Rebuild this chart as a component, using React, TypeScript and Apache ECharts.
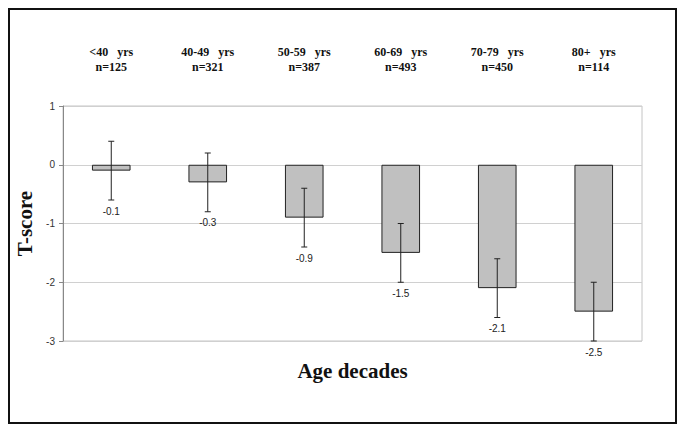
import React, { useEffect, useRef } from "react";
import * as echarts from "echarts";

const categories = ["<40   yrs\nn=125", "40-49   yrs\nn=321", "50-59   yrs\nn=387", "60-69   yrs\nn=493", "70-79   yrs\nn=450", "80+   yrs\nn=114"];
const tScores = [-0.1, -0.3, -0.9, -1.5, -2.1, -2.5];
const errLow = [-0.6, -0.8, -1.4, -2.0, -2.6, -3.0];
const errHigh = [0.4, 0.2, -0.4, -1.0, -1.6, -2.0];
const yTicks = { min: -3, max: 1, interval: 1 };

export default function App() {
  const ref = useRef<HTMLDivElement>(null);
  useEffect(() => {
    if (!ref.current) return;
    const chart = echarts.init(ref.current, undefined, { renderer: "svg" });
    const errData = categories.map((_, i) => [i, errLow[i], errHigh[i], tScores[i]]);
    chart.setOption({
      animation: false,
      backgroundColor: "#fff",
      grid: {
        left: 63,
        right: 43,
        top: 106,
        bottom: 91,
        show: true,
        borderColor: "#c4c4c4",
        borderWidth: 1,
      },
      graphic: [
        {
          type: "rect",
          shape: { x: 9, y: 9, width: 667, height: 414 },
          style: { fill: "none", stroke: "#111", lineWidth: 2 },
          z: 100,
        },
      ],
      xAxis: [
        {
          type: "category",
          data: categories,
          position: "top",
          axisLine: { show: false },
          axisTick: { show: false },
          axisLabel: {
            margin: 32,
            fontFamily: "'Liberation Serif', 'Times New Roman', serif",
            fontWeight: "bold",
            fontSize: 12,
            lineHeight: 15,
            color: "#111",
          },
        },
        {
          type: "category",
          data: categories,
          position: "bottom",
          axisLine: { show: false },
          axisTick: { show: false },
          axisLabel: { show: false },
          name: "Age decades",
          nameLocation: "middle",
          nameGap: 19,
          nameTextStyle: {
            fontFamily: "'Liberation Serif', 'Times New Roman', serif",
            fontWeight: "bold",
            fontSize: 21,
            color: "#111",
          },
        },
      ],
      yAxis: {
        type: "value",
        min: yTicks.min,
        max: yTicks.max,
        interval: yTicks.interval,
        name: "T-score",
        nameLocation: "middle",
        nameRotate: 90,
        nameGap: 26,
        nameTextStyle: {
          fontFamily: "'Liberation Serif', 'Times New Roman', serif",
          fontWeight: "bold",
          fontSize: 21,
          color: "#111",
        },
        axisLine: { show: true, lineStyle: { color: "#888", width: 1 } },
        axisTick: { show: true, length: 4, lineStyle: { color: "#888" } },
        axisLabel: {
          fontFamily: "'Liberation Sans', Arial, sans-serif",
          fontSize: 10,
          color: "#333",
          margin: 8,
        },
        splitLine: { show: true, lineStyle: { color: "#d0d0d0", width: 1 } },
      },
      series: [
        {
          type: "bar",
          data: tScores,
          barWidth: "40%",
          itemStyle: { color: "#c0c0c0", borderColor: "#222", borderWidth: 1 },
          z: 2,
        },
        {
          type: "custom",
          data: errData,
          z: 5,
          renderItem: (params: any, api: any) => {
            const i = api.value(0);
            const lo = api.coord([i, api.value(1)]);
            const hi = api.coord([i, api.value(2)]);
            const val = api.value(3);
            const cap = 3;
            const lineStyle = { stroke: "#222", lineWidth: 1 };
            return {
              type: "group",
              children: [
                { type: "line", shape: { x1: hi[0], y1: hi[1], x2: lo[0], y2: lo[1] }, style: lineStyle },
                { type: "line", shape: { x1: hi[0] - cap, y1: hi[1], x2: hi[0] + cap, y2: hi[1] }, style: lineStyle },
                { type: "line", shape: { x1: lo[0] - cap, y1: lo[1], x2: lo[0] + cap, y2: lo[1] }, style: lineStyle },
                {
                  type: "text",
                  style: {
                    text: String(val),
                    x: lo[0],
                    y: lo[1] + 11,
                    align: "center",
                    verticalAlign: "middle",
                    fontFamily: "'Liberation Sans', Arial, sans-serif",
                    fontSize: 10,
                    fill: "#222",
                  },
                },
              ],
            };
          },
        },
      ],
    });
    return () => chart.dispose();
  }, []);
  return <div ref={ref} style={{ position: "fixed", left: 0, top: 0, width: 685, height: 432 }} />;
}
